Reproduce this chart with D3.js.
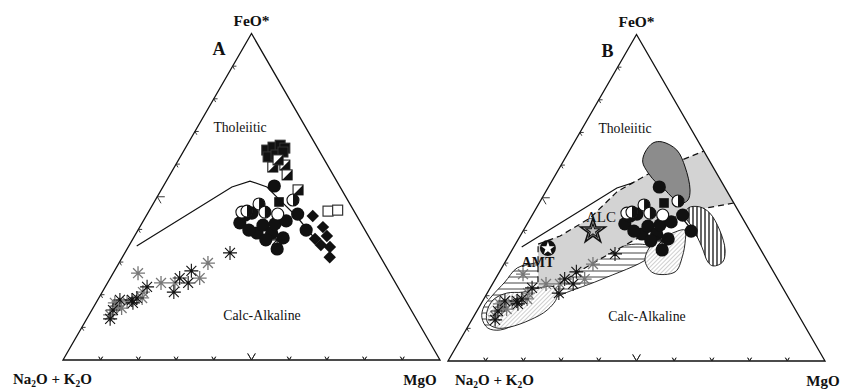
<!DOCTYPE html>
<html>
<head>
<meta charset="utf-8">
<script src="https://cdn.jsdelivr.net/npm/d3@7/dist/d3.min.js"></script>
<style>
  body { margin: 0; background: #fff; }
  svg { display: block; }
  text { font-family: "Liberation Serif", "DejaVu Serif", serif; fill: #111; }
</style>
</head>
<body>
<svg id="chart" width="842" height="390"></svg>
<script>
// AFM ternary compositions, each point as [Na2O+K2O, FeO*, MgO]
const squaresHighFe = [[13.8,64.3,21.9],[11.7,65.2,23.1],[9.5,65.8,24.7],[8.7,64.9,26.4],[14.5,62.2,23.3],[12.1,62.8,25.1],[9.8,63.7,26.5]];
const squaresLowFe = [[18.5,48.4,33.1]];
const halfSquares = [[14.8,59.1,26.1],[11.3,59.7,29.0],[12.2,56.7,31.1],[11.6,52.1,36.3],[12.3,61.3,26.4]];
const openSquares = [[6.9,45.6,47.5],[4.2,45.9,49.9]];
const filledCircles = [[17.3,53.3,29.4],[15.4,44.7,39.9],[15.6,39.8,44.6],[26.2,34.0,39.8],[32.1,42.0,25.9],[27.4,45.0,27.6],[29.1,38.9,32.0],[26.3,41.3,32.4],[25.2,38.9,35.9],[22.9,41.7,35.4],[19.5,42.6,37.9],[29.5,44.4,26.1],[30.8,39.8,29.4],[27.8,36.8,35.4],[22.9,37.4,39.7]];
const halfCircles = [[28.4,45.6,26.0],[24.1,47.8,28.1],[14.5,49.0,36.5],[23.8,45.3,30.9]];
const openCircles = [[20.7,44.7,34.6],[29.9,45.3,24.8]];
const diamonds = [[11.7,44.1,44.2],[10.7,40.7,48.6],[14.6,37.1,48.3],[11.0,38.0,51.0],[14.0,35.2,50.8],[11.9,34.6,53.5],[13.5,31.5,55.0]];
const asterisksDark = [[39.3,32.8,27.9],[52.3,27.3,20.4],[56.5,25.1,18.4],[55.0,23.6,21.4],[60.2,20.8,19.0],[66.5,22.4,11.1],[70.9,19.0,10.1],[72.5,18.4,9.1],[75.7,18.4,5.9],[79.1,15.3,5.6],[81.2,12.6,6.2],[72.7,17.5,9.8],[24.8,36.8,38.4]];
const asterisksGrey = [[46.7,29.7,23.6],[51.2,25.1,23.7],[58.5,23.6,17.9],[62.2,23.6,14.2],[66.8,26.6,6.6],[68.4,20.8,10.8],[74.1,17.8,8.1],[77.5,16.5,6.0],[80.6,13.8,5.6],[69.5,19.0,11.5],[76.5,15.9,7.6],[77.5,17.5,5.0]];

// Tholeiitic / calc-alkaline dividing curve
const boundaryLine = [[63.0,34.9,2.1],[28.7,53.0,18.3],[23.0,54.8,22.2],[19.4,53.0,27.6],[18.2,49.6,32.2],[16.0,43.8,40.2],[14.4,36.1,49.5]];

// Comparison fields (panel B)
const fieldGreyBand = [[58.2,35.8,6.0],[51.1,38.3,10.6],[40.4,43.8,15.8],[29.3,51.8,18.9],[17.6,57.6,24.8],[0,64.3,35.7],[0,48.4,51.6],[7.8,46.9,45.3],[14.9,45.6,39.5],[23.2,41.3,35.5],[30.1,38.0,31.9],[37.1,34.6,28.3],[44.1,31.2,24.7],[51.2,27.6,21.2],[58.3,23.9,17.8],[65.9,20.5,13.6]];
const fieldDarkBlob = [[15.7,64.0,20.3],[12.2,66.8,21.0],[9.6,67.1,23.3],[7.0,64.6,28.4],[7.4,59.4,33.2],[9.6,52.4,38.0],[11.7,49.3,39.0],[13.7,48.4,37.9],[15.5,50.2,34.3],[16.2,52.4,31.4],[17.4,54.5,28.1],[18.1,57.6,24.3],[17.9,60.9,21.2]];
const fieldVertical = [[12.8,46.9,40.3],[9.6,47.2,43.2],[7.9,45.3,46.8],[7.9,40.1,52.0],[9.5,34.0,56.5],[12.0,30.3,57.7],[15.1,29.1,55.8],[15.9,30.3,53.8],[15.2,34.9,49.9],[14.7,40.7,44.6],[15.0,44.7,41.3]];
const fieldPear = [[32.3,30.9,36.8],[27.6,36.1,36.3],[22.3,38.6,39.1],[17.1,40.1,42.8],[18.5,37.1,44.4],[21.9,31.9,46.2],[26.1,27.3,46.6],[32.1,27.0,40.9]];
const fieldHorizontal = [[67.4,28.5,4.1],[60.5,30.3,9.2],[42.7,34.0,23.3],[31.2,35.8,33.0],[27.8,34.6,37.6],[31.2,31.5,37.3],[47.3,24.8,27.9],[61.3,19.6,19.1],[67.8,15.6,16.6],[75.0,11.9,13.1],[81.4,9.5,9.1],[84.4,10.1,5.5],[84.4,13.2,2.4],[82.3,16.5,1.2],[78.4,19.9,1.7],[72.8,24.2,3.0]];
const fieldDiagonal = [[60.7,22.7,16.6],[61.3,19.6,19.1],[65.9,15.6,18.5],[71.9,12.6,15.5],[78.4,10.4,11.2],[82.0,10.1,7.9],[83.6,11.6,4.8],[82.4,14.7,2.9],[78.7,18.7,2.6],[74.0,20.8,5.2],[69.6,21.1,9.3],[64.4,22.4,13.2]];

// Reference compositions
const refALC = [41.5,40.1,18.4];
const refAMT = [56.2,34.6,9.2];

const tickSteps = [10,20,30,40,50,60,70,80,90];

const svg = d3.select("#chart");
const defs = svg.append("defs");

// hatch patterns
const pv = defs.append("pattern").attr("id","hatchV").attr("patternUnits","userSpaceOnUse").attr("width",4).attr("height",4);
pv.append("rect").attr("width",4).attr("height",4).attr("fill","#fff");
pv.append("line").attr("x1",1).attr("y1",0).attr("x2",1).attr("y2",4).attr("stroke","#111").attr("stroke-width",1.3);
const ph = defs.append("pattern").attr("id","hatchH").attr("patternUnits","userSpaceOnUse").attr("width",6).attr("height",6);
ph.append("rect").attr("width",6).attr("height",6).attr("fill","#fff");
ph.append("line").attr("x1",0).attr("y1",1).attr("x2",6).attr("y2",1).attr("stroke","#444").attr("stroke-width",1);
const pd = defs.append("pattern").attr("id","hatchD").attr("patternUnits","userSpaceOnUse").attr("width",3).attr("height",3).attr("patternTransform","rotate(45)");
pd.append("rect").attr("width",3).attr("height",3).attr("fill","#fff");
pd.append("line").attr("x1",0).attr("y1",0).attr("x2",0).attr("y2",3).attr("stroke","#888").attr("stroke-width",0.8);

function asteriskPath(r) {
  let p = "";
  for (let k = 0; k < 4; k++) {
    const a = k * Math.PI / 4, c = Math.cos(a) * r, s = Math.sin(a) * r;
    p += `M${-c},${-s}L${c},${s}`;
  }
  return p;
}

function drawPanel(cfg) {
  const H = cfg.w * Math.sqrt(3) / 2;
  const sx = d3.scaleLinear().domain([0,100]).range([cfg.x0, cfg.x0 + cfg.w]);
  const sy = d3.scaleLinear().domain([0,100]).range([cfg.yb, cfg.yb - H]);
  const proj = p => { const s = p[0]+p[1]+p[2]; const f = p[1]/s*100, m = p[2]/s*100; return [sx(m + f/2), sy(f)]; };
  const g = svg.append("g");
  const lin = d3.line().curve(d3.curveLinearClosed);
  const smooth = d3.line().curve(d3.curveCatmullRomClosed.alpha(0.5));
  const open = d3.line();
  const bandLower = fieldGreyBand.slice(6).concat([fieldGreyBand[0]]);

  if (cfg.fields) {
    g.append("path").attr("d", open(boundaryLine.map(proj))).attr("fill","none").attr("stroke","#111").attr("stroke-width",1.2);
    g.append("path").attr("d", smooth(fieldHorizontal.map(proj))).attr("fill","url(#hatchH)").attr("stroke","#111").attr("stroke-width",0.9);
    g.append("path").attr("d", lin(fieldGreyBand.map(proj))).attr("fill","#d3d3d3").attr("stroke","none");
    g.append("path").attr("d", open(fieldGreyBand.slice(0,6).map(proj))).attr("fill","none").attr("stroke","#111").attr("stroke-width",1.2).attr("stroke-dasharray","6,4");
    g.append("path").attr("d", open(bandLower.map(proj))).attr("fill","none").attr("stroke","#111").attr("stroke-width",1.2).attr("stroke-dasharray","6,4");
    g.append("path").attr("d", smooth(fieldDiagonal.map(proj))).attr("fill","url(#hatchD)").attr("stroke","#111").attr("stroke-width",0.9);
    g.append("path").attr("d", smooth(fieldPear.map(proj))).attr("fill","url(#hatchD)").attr("stroke","#111").attr("stroke-width",0.9);
    g.append("path").attr("d", smooth(fieldVertical.map(proj))).attr("fill","url(#hatchV)").attr("stroke","#111").attr("stroke-width",0.9);
    g.append("path").attr("d", smooth(fieldDarkBlob.map(proj))).attr("fill","#8c8c8c").attr("stroke","#111").attr("stroke-width",1);
  } else {
    g.append("path").attr("d", open(boundaryLine.map(proj))).attr("fill","none").attr("stroke","#111").attr("stroke-width",1.2);
  }

  // triangle frame
  g.append("path").attr("d", lin([[100,0,0],[0,100,0],[0,0,100]].map(proj))).attr("fill","none").attr("stroke","#111").attr("stroke-width",1.3);

  // ticks: two short arms along the grid directions, pointing inward
  const edges = [[0,2,1],[2,0,1],[1,0,2]];
  edges.forEach(([iv, io, iz]) => {
    tickSteps.forEach(t => {
      const L = t === 50 ? 2.0 : 1.0;
      const p = [0,0,0]; p[iv] = t; p[io] = 100 - t;
      const a1 = p.slice(); a1[iz] += L; a1[iv] -= L;
      const a2 = p.slice(); a2[iz] += L; a2[io] -= L;
      const P = proj(p), A1 = proj(a1), A2 = proj(a2);
      g.append("path").attr("d", `M${A1}L${P}L${A2}`).attr("fill","none").attr("stroke","#222").attr("stroke-width",0.9);
    });
  });

  // samples
  const pts = g.append("g");
  if (!cfg.fields) {
    diamonds.forEach(p => { const [x,y] = proj(p);
      pts.append("path").attr("transform",`translate(${x},${y}) rotate(45)`).attr("d","M-4.4,-4.4h8.8v8.8h-8.8z").attr("fill","#111"); });
    openSquares.forEach(p => { const [x,y] = proj(p);
      pts.append("rect").attr("x",x-5).attr("y",y-5).attr("width",10).attr("height",10).attr("fill","#fff").attr("stroke","#333").attr("stroke-width",1.2); });
    squaresHighFe.forEach(p => { const [x,y] = proj(p);
      pts.append("rect").attr("x",x-5).attr("y",y-5).attr("width",10).attr("height",10).attr("fill","#111").attr("stroke","#333"); });
    halfSquares.forEach(p => { const [x,y] = proj(p);
      pts.append("rect").attr("x",x-5).attr("y",y-5).attr("width",10).attr("height",10).attr("fill","#fff").attr("stroke","#222").attr("stroke-width",1.1);
      pts.append("path").attr("d",`M${x+5},${y-5}L${x+5},${y+5}L${x-5},${y+5}Z`).attr("fill","#111"); });
  }
  squaresLowFe.forEach(p => { const [x,y] = proj(p);
    pts.append("rect").attr("x",x-4.8).attr("y",y-4.8).attr("width",9.6).attr("height",9.6).attr("fill","#111"); });
  filledCircles.forEach(p => { const [x,y] = proj(p);
    pts.append("circle").attr("cx",x).attr("cy",y).attr("r",6.6).attr("fill","#111"); });
  openCircles.forEach(p => { const [x,y] = proj(p);
    pts.append("circle").attr("cx",x).attr("cy",y).attr("r",6).attr("fill","#fff").attr("stroke","#111").attr("stroke-width",1.1); });
  halfCircles.forEach(p => { const [x,y] = proj(p);
    pts.append("circle").attr("cx",x).attr("cy",y).attr("r",6).attr("fill","#fff").attr("stroke","#111").attr("stroke-width",1.1);
    pts.append("path").attr("d",`M${x},${y-6}A6,6 0 0 1 ${x},${y+6}Z`).attr("fill","#111"); });
  asterisksGrey.forEach(p => { const [x,y] = proj(p);
    pts.append("path").attr("transform",`translate(${x},${y})`).attr("d",asteriskPath(7)).attr("stroke","#777").attr("stroke-width",1.3).attr("fill","none"); });
  asterisksDark.forEach(p => { const [x,y] = proj(p);
    pts.append("path").attr("transform",`translate(${x},${y})`).attr("d",asteriskPath(7)).attr("stroke","#111").attr("stroke-width",1.1).attr("fill","none"); });

  if (cfg.fields) {
    const [ax, ay] = proj(refALC);
    const star = d3.symbol().type(d3.symbolStar);
    g.append("path").attr("transform",`translate(${ax},${ay+1})`).attr("d",star.size(190)()).attr("fill","#bbb").attr("stroke","#111").attr("stroke-width",1.6);
    g.append("path").attr("transform",`translate(${ax},${ay+1})`).attr("d",star.size(60)()).attr("fill","none").attr("stroke","#111").attr("stroke-width",1.1);
    g.append("text").attr("x",ax+8).attr("y",ay-8).attr("text-anchor","middle").attr("font-size",15).text("ALC");
    const [mx, my] = proj(refAMT);
    g.append("circle").attr("cx",mx).attr("cy",my).attr("r",8).attr("fill","#111");
    g.append("path").attr("transform",`translate(${mx},${my+0.5})`).attr("d",star.size(55)()).attr("fill","#fff");
    g.append("text").attr("x",mx-10).attr("y",my+19).attr("text-anchor","middle").attr("font-size",14).attr("font-weight","bold").text("AMT");
  }

  // labels
  const apexX = sx(50), apexY = sy(100);
  g.append("text").attr("x",apexX).attr("y",apexY-8).attr("text-anchor","middle").attr("font-size",15.5).attr("font-weight","bold").text("FeO*");
  g.append("text").attr("x",apexX+cfg.letterDx).attr("y",apexY+cfg.letterDy).attr("text-anchor","middle").attr("font-size",18).attr("font-weight","bold").text(cfg.id);
  g.append("text").attr("x",apexX-11.5).attr("y",apexY+98.5).attr("text-anchor","middle").attr("font-size",13.7).text("Tholeiitic");
  g.append("text").attr("x",apexX+10.5).attr("y",cfg.yb-40).attr("text-anchor","middle").attr("font-size",13.8).text("Calc-Alkaline");
  const ak = g.append("text").attr("x",cfg.alkX).attr("y",cfg.yb+24).attr("font-size",15).attr("font-weight","bold");
  ak.append("tspan").text("Na");
  ak.append("tspan").attr("font-size",9.5).attr("dy",2.5).text("2");
  ak.append("tspan").attr("dy",-2.5).text("O + K");
  ak.append("tspan").attr("font-size",9.5).attr("dy",2.5).text("2");
  ak.append("tspan").attr("dy",-2.5).text("O");
  g.append("text").attr("x",cfg.mgX).attr("y",cfg.yb+25).attr("text-anchor","middle").attr("font-size",15).attr("font-weight","bold").text("MgO");
}

drawPanel({id:"A", x0:63, yb:360, w:377, fields:false, letterDx:-32.5, letterDy:21.5, alkX:13, mgX:420});
drawPanel({id:"B", x0:448, yb:361, w:377, fields:true, letterDx:-29, letterDy:22.5, alkX:455, mgX:823});
</script>
</body>
</html>
